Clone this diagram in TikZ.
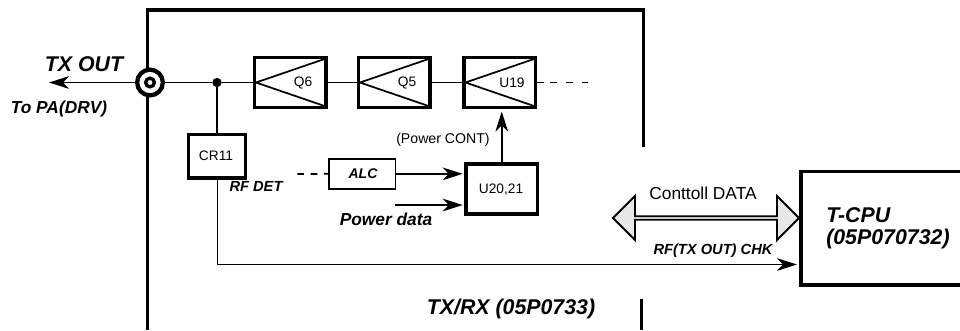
\documentclass[tikz,border=0pt]{standalone}
\usepackage{fontspec}
\setmainfont{Liberation Sans}
\usetikzlibrary{arrows.meta,calc,shapes.arrows}
\tikzset{x=0.75pt,y=-0.75pt,
 thick box/.style={draw=black,line width=2.7pt,fill=white,inner sep=0pt,outer sep=0pt,anchor=north west},
 thin box/.style={draw=black,line width=1.2pt,fill=white,inner sep=0pt,outer sep=0pt,anchor=north west},
 ampbox/.style={thick box,minimum width=53.6pt,minimum height=37.5pt},
 wire/.style={draw=black,line width=1.3pt},
 tipped/.style={wire,-{Stealth[length=15pt,width=9.5pt,inset=4.5pt]}},
 frame/.style={draw=black,line width=2.6pt},
 amp/.style={draw=black,line width=1.3pt,line join=miter},
 reg/.style={font=\fontsize{10.3}{12}\selectfont,inner sep=0pt},
 ital/.style={font=\fontsize{11}{13}\bfseries\itshape\selectfont,inner sep=0pt},
 big/.style={font=\fontsize{16}{16.5}\bfseries\itshape\selectfont,inner sep=0pt},
 mid/.style={font=\fontsize{13}{15}\bfseries\itshape\selectfont,inner sep=0pt}}
\begin{document}
\begin{tikzpicture}
\useasboundingbox (0,0) rectangle (960,330);
\fill[white] (0,0) rectangle (960,330);
\draw[frame] (147.6,330) -- (147.6,10) -- (643.3,10) -- (643.3,146.7);
\draw[frame] (641.7,299) -- (641.7,330);
% named anchors
\coordinate (left end) at (49,82.5);
\coordinate (out end) at (588,82.5);
\coordinate (alc in) at (297.3,174);
\coordinate (pd in) at (395,205);
\coordinate (rf corner) at (217.5,264.5);
% blocks
\node[ampbox] (q6) at (254.5,57.5) {};
\node[ampbox] (q5) at (358.5,57.5) {};
\node[ampbox] (u19) at (464,57.5) {};
\node[thick box,line width=2.5pt,minimum width=43pt,minimum height=32.3pt] (cr) at (188.3,134.8) {};
\node[thin box,minimum width=50pt,minimum height=22.7pt] (alc) at (329,158.7) {};
\node[thick box,minimum width=53.6pt,minimum height=37.5pt] (u20) at (466,164) {};
\node[circle,draw=black,line width=3.2pt,fill=white,minimum size=19.3pt,inner sep=0pt,outer sep=0pt] (jack) at (150,82.5) {};
\node[circle,draw=black,line width=2.5pt,fill=white,minimum size=6.5pt,inner sep=0pt,outer sep=0pt] (jackin) at (150,82.5) {};
\node[circle,fill=black,minimum size=7pt,inner sep=0pt,outer sep=0pt] (dot) at (217,82.5) {};
\node[inner sep=0pt,outer sep=0pt,minimum width=120pt,minimum height=85pt,anchor=north west] (cpu) at (801,171.7) {};
\draw[line width=2.5pt] (cpu.north east) -- (cpu.north west) -- (cpu.south west) -- (cpu.south east);
% amplifier triangles
\foreach \n in {q6,q5,u19}{
 \draw[amp] ($(\n.north east)+(-1.5,1.5)$) -- ($(\n.west)+(1.5,0)$) -- ($(\n.south east)+(-1.5,-1.5)$);
}
% connectors
\draw[tipped] (jack) -- (left end);
\draw[wire] (jack) -- (dot) -- (q6.west);
\draw[wire] (q6.east) -- (q5.west);
\draw[wire] (q5.east) -- (u19.west);
\draw[wire] (u19.east) -- ++(8.5,0);
\draw[wire,dash pattern=on 5.4pt off 6.6pt] ($(u19.east)+(14.5,0)$) -- (out end);
\draw[wire] (dot) -- (cr.north -| dot);
\draw[wire,dash pattern=on 5pt off 5pt] (alc in) -- (alc.west);
\draw[tipped] (alc.east) -- ($(u20.west |- alc.east)+(-3.3,0)$);
\draw[tipped] (pd in) -- ($(u20.west |- pd in)+(-3.3,0)$);
\draw[tipped] (u20.north) -- ($(u20.north |- u19.south)+(0,4)$);
\draw[tipped] (cr.south -| rf corner) -- (rf corner) -- ($(cpu.west |- rf corner)+(-4,0)$);
% double arrow
\node[draw=black,line width=1.4pt,fill=black!9,double arrow,inner sep=0pt,
 minimum width=33pt,minimum height=139.5pt,double arrow head extend=8pt,
 shape border uses incircle=false] (bus) at (706,218) {};
% labels
\node[big] (tx) at (84,64) {TX OUT};
\node[mid] (pa) at (59,109) {To PA(DRV)};
\node[reg] at (303,83) {Q6};
\node[reg] at (407,83) {Q5};
\node[reg] at (512,83) {U19};
\node[reg] at (216,156) {CR11};
\node[reg,font=\fontsize{10.6}{12}\selectfont] at (443,140) {(Power CONT)};
\node[inner sep=0pt,font=\fontsize{10.5}{12}\bfseries\itshape\selectfont] at (363,174) {ALC};
\node[reg] at (501,190) {U20,21};
\node[mid] at (386,219) {Power data};
\node[ital] at (256,186) {RF DET};
\node[reg,font=\fontsize{13}{15}\selectfont] at (703,193) {Conttoll DATA};
\node[ital] at (713,251) {RF(TX OUT) CHK};
\node[big,align=left,anchor=west] at (826,228) {T-CPU\\(05P070732)};
\node[big] at (511,309) {TX/RX (05P0733)};
\end{tikzpicture}
\end{document}
